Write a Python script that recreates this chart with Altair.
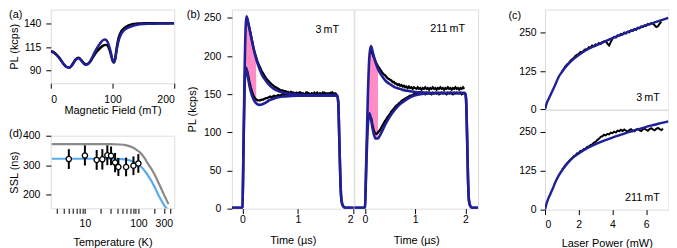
import altair as alt
import pandas as pd

FONT = "Liberation Sans"
BLUE = "#1f1f96"
PINK = "#ff8cc6"
LBLUE = "#5aaaf2"
GRAY = "#8a8a8a"
FS_LABEL = 10.5
FS_TITLE = 11

panel_letters = ["(a)", "(b)", "(c)", "(d)"]

# ---------------- panel (a): PL vs magnetic field ----------------
a_field = [0, 5, 10, 15, 20, 25, 30, 35, 40, 45, 50, 55, 58, 62, 66, 70, 75, 80, 85, 88,
           91, 94, 97, 100, 102, 104, 107, 110, 114, 118, 122, 126, 132, 140, 150, 160, 175, 190, 200]
a_fit = [110.5, 109, 106, 102, 97.5, 94, 93, 96, 101, 103, 100, 96.5, 96, 98, 102.5, 108, 114, 119, 122.5, 123,
         121.5, 117, 110, 101, 98.5, 101, 113, 122, 129, 132.5, 134.5, 136, 137.5, 138.8, 139.5, 139.8, 140, 140.2, 140.3]
a_data = [110.5, 109.3, 106.5, 102.5, 97.5, 94, 93, 96.5, 101.5, 103.5, 100.5, 97, 96.5, 98, 101.5, 106, 110.5, 114, 116.5, 117.3,
          117, 114, 108, 100.5, 98.5, 102, 115, 125, 131.5, 134.5, 136.5, 138, 139.3, 140, 140.3, 140.5, 140.5, 140.5, 140.5]

# ---------------- panel (d): SSL vs temperature ----------------
d_temp = [5, 10, 16.6, 21.2, 26.3, 30.9, 36.7, 42.3, 59, 81, 100]
d_ssl = [321, 333, 318, 320, 334, 332, 309, 294, 294, 298, 306]
d_lo = [287, 299, 284, 285, 300, 300, 276, 263, 262, 266, 274]
d_hi = [355, 368, 352, 355, 368, 364, 342, 325, 326, 330, 338]
d_gray_T = [2.4, 10, 30, 45, 60, 75, 90, 107, 130, 150, 191, 250, 300, 366]
d_gray_v = [372, 372, 372, 371, 368, 362, 354, 344, 325, 306, 276, 232, 200, 167]
d_blue_T = [2.4, 10, 30, 50, 70, 85, 107, 130, 160, 191, 250, 300, 345]
d_blue_v = [322, 322, 322, 321, 316, 309, 298, 282, 258, 234, 190, 165, 150]
d_ticks = [3, 4, 5, 6, 7, 8, 9, 10, 20, 30, 40, 50, 60, 70, 80, 90, 100, 200, 300, 400]

# ---------------- panel (b): time traces ----------------
bl_t = [-0.19, -0.02, 0, 0.02, 0.04, 0.06, 0.075, 0.09, 0.11, 0.13, 0.15, 0.18, 0.21, 0.25, 0.30, 0.35, 0.42,
        0.50, 0.57, 0.65, 0.75, 0.85, 1.0, 1.2, 1.5, 1.71, 1.73, 1.75, 1.77, 1.79, 1.82, 1.86, 2.01]
bl_up_fit = [1, 1, 2, 80, 180, 240, 252, 249, 242, 235, 228, 217, 207, 196, 185, 176, 168,
             161, 157, 154, 152, 150.5, 149.5, 149, 149, 149, 140, 90, 35, 10, 3, 1, 1]
bl_lo_fit = [1, 1, 2, 80, 160, 185, 183, 176, 168, 160, 154, 147, 142, 138, 136, 136.5, 139,
             142.5, 144.5, 146, 147, 147.5, 148, 148, 148, 148, 140, 90, 35, 10, 3, 1, 1]
bl_fill_range = (5, 13)  # t = 0.06 ... 0.25

bl_dt = [round(0.075 + 0.025 * i, 3) for i in range(66)]
bl_up_dat = [250, 245, 237, 229, 220, 211, 204, 198, 192, 188,
             184, 180, 177, 174, 171, 169, 167, 165, 163, 162,
             160, 159, 158, 157, 156, 155, 155, 154, 154, 153,
             153, 151, 153, 151, 152, 150, 152, 151, 150, 152,
             150, 151, 149, 152, 150, 151, 149, 151, 150, 152,
             150, 151, 149, 151, 150, 152, 150, 151, 149, 151,
             150, 152, 150, 151, 150, 151]
bl_lo_dat = [183, 176, 167, 159, 153, 148, 145, 143, 142, 142,
             142, 143, 143, 144, 145, 145, 146, 147, 146, 147,
             148, 147, 148, 149, 148, 149, 150, 149, 150, 149,
             151, 149, 150, 152, 150, 149, 151, 150, 152, 149,
             151, 150, 149, 151, 152, 150, 149, 151, 150, 151,
             149, 152, 150, 151, 149, 150, 152, 150, 151, 149,
             151, 150, 152, 149, 151, 150]

br_t = [-0.21, -0.02, 0, 0.03, 0.06, 0.09, 0.12, 0.15, 0.18, 0.21, 0.26, 0.30, 0.36, 0.42, 0.50, 0.60,
        0.70, 0.80, 0.90, 1.0, 1.1, 1.25, 1.5, 1.99, 2.01, 2.03, 2.05, 2.07, 2.1, 2.14, 2.25]
br_up_fit = [1, 1, 2, 70, 150, 200, 213, 207, 199, 192, 183, 178, 172, 167, 163, 159,
             157, 155, 154, 153, 152.5, 152, 151.5, 151.5, 145, 100, 40, 10, 3, 1, 1]
br_lo_fit = [1, 1, 2, 60, 110, 125, 118, 106, 97, 92, 92, 96, 104, 112, 121, 130,
             137, 142, 146, 148.5, 150, 151, 151.5, 151.5, 145, 100, 40, 10, 3, 1, 1]
br_fill_range = (4, 10)  # t = 0.06 ... 0.26

br_dt = [round(0.125 + 0.025 * i, 3) for i in range(75)]
br_up_dat = [207, 203, 199, 195, 191, 188, 185, 183, 180, 178,
             176, 175, 173, 171, 170, 169, 168, 166, 166, 164,
             164, 162, 163, 161, 162, 160, 161, 159, 160, 158,
             160, 158, 159, 157, 159, 158, 157, 159, 157, 158,
             156, 158, 157, 159, 157, 158, 156, 158, 157, 159,
             157, 158, 156, 158, 157, 159, 157, 158, 156, 158,
             157, 159, 157, 158, 156, 158, 157, 159, 157, 158,
             156, 158, 157, 159, 157]
br_lo_dat = [119, 110, 103, 99, 98, 99, 101, 103, 106, 109,
             112, 115, 117, 120, 122, 124, 127, 129, 131, 133,
             135, 136, 138, 139, 141, 142, 143, 144, 145, 146,
             147, 148, 148, 149, 150, 150, 151, 150, 151, 152,
             151, 152, 151, 150, 152, 151, 152, 151, 150, 152,
             151, 152, 151, 152, 150, 151, 152, 151, 152, 151,
             150, 152, 151, 152, 151, 150, 152, 151, 152, 151,
             151, 152, 150, 151, 152]
b_labels = ["3\u2009mT", "211\u2009mT"]

# ---------------- panel (c): PL vs laser power ----------------
c_fit_P = [0, 0.1, 0.2, 0.3, 0.45, 0.6, 0.8, 1.0, 1.3, 1.6, 2.0, 2.5, 3.0, 3.5, 4.0, 4.5, 5.0, 5.5, 6.0, 6.5, 7.0, 7.32]
ct_fit = [0, 20, 33, 44, 62, 80, 105, 122, 143, 160, 177, 195, 208, 220, 232, 243, 254, 264, 274, 283, 292, 298]
cb_fit = [0, 21, 36, 48, 66, 86, 108, 125, 146, 164, 180, 197, 210, 221, 231, 240, 249, 257, 265, 272, 279, 283]
ct_P = [round(1.0 + 0.1 * i, 1) for i in range(60)]
ct_dat = [124, 130, 140, 146, 150, 158, 163, 167, 174, 178,
          181, 187, 186, 192, 196, 195, 203, 201, 208, 206,
          212, 210, 216, 213, 219, 221, 223, 214, 208, 220,
          230, 236, 234, 241, 240, 246, 244, 250, 247, 253,
          251, 258, 255, 262, 259, 266, 264, 270, 268, 273,
          272, 278, 276, 281, 279, 274, 268, 271, 279, 286]
cb_P = [round(1.0 + 0.1 * i, 1) for i in range(61)]
cb_dat = [128, 134, 142, 148, 154, 160, 164, 171, 174, 180,
          182, 188, 189, 194, 195, 201, 202, 207, 209, 215,
          217, 223, 227, 233, 235, 240, 238, 243, 241, 247,
          245, 250, 247, 253, 251, 256, 252, 257, 253, 250,
          255, 258, 253, 251, 256, 259, 255, 252, 257, 260,
          256, 253, 258, 261, 257, 254, 259, 262, 258, 255,
          259]
c_labels = ["3\u2009mT", "211\u2009mT"]


def ax(**kw):
    base = dict(grid=False, domain=False, ticks=True, tickSize=5, tickColor="black", tickWidth=1,
                labelFont=FONT, labelFontSize=FS_LABEL, labelColor="black",
                titleFont=FONT, titleFontSize=FS_TITLE, titleColor="black", titleFontWeight="normal")
    base.update(kw)
    return alt.Axis(**base)


def yax(values, title, pad, ext=None, tpad=None):
    if title is None:
        return ax(values=values, title=None, labelPadding=pad)
    return ax(values=values, title=title, labelPadding=pad, titlePadding=tpad, minExtent=ext, maxExtent=ext)


def xax(values, title, pad, tpad):
    return ax(values=values, title=title, labelPadding=pad, titlePadding=tpad)


def text_layer(text, x, y, align="right", size=10.8):
    return alt.Chart(pd.DataFrame({"lab": [text]})).mark_text(
        align=align, baseline="alphabetic", font=FONT, fontSize=size, color="black"
    ).encode(text="lab:N", x=alt.value(x), y=alt.value(y))


# ---- (a)
a_df = pd.DataFrame({"B": a_field, "fit": a_fit, "data": a_data})
a_xs = alt.Scale(domain=[0, 200], nice=False)
a_ys = alt.Scale(domain=[76.4, 155], nice=False, zero=False)
a_xax = xax([0, 100, 200], "Magnetic Field (mT)", 6, 0)
a_yax = yax([90, 115, 140], "PL (kcps)", 5, 27.5, 3.5)
a_chart = alt.layer(
    alt.Chart(a_df).mark_line(color="black", strokeWidth=2.5, interpolate="monotone", clip=True).encode(
        x=alt.X("B:Q", scale=a_xs, axis=a_xax), y=alt.Y("data:Q", scale=a_ys, axis=a_yax)),
    alt.Chart(a_df).mark_line(color=BLUE, strokeWidth=2.5, interpolate="monotone", clip=True).encode(
        x=alt.X("B:Q", scale=a_xs, axis=a_xax), y=alt.Y("fit:Q", scale=a_ys, axis=a_yax)),
    text_layer(panel_letters[0], -42, 8.5, align="left", size=11),
).properties(width=124, height=74)

# ---- (d)
d_pts = pd.DataFrame({"T": d_temp, "ssl": d_ssl, "lo": d_lo, "hi": d_hi})
d_gray = pd.DataFrame({"T": d_gray_T, "v": d_gray_v})
d_blue = pd.DataFrame({"T": d_blue_T, "v": d_blue_v})
d_xs = alt.Scale(type="log", domain=[2.3, 470], nice=False)
d_ys = alt.Scale(domain=[152, 401], nice=False, zero=False)
d_xax = ax(values=d_ticks, title="Temperature (K)", labelPadding=5, titlePadding=8,
           labelExpr="(datum.value == 10 || datum.value == 100 || datum.value == 300) ? format(datum.value, 'd') : ''")
d_yax = yax([200, 300, 400], "SSL (ns)", 6, 28.5, 2.5)
d_chart = alt.layer(
    alt.Chart(d_gray).mark_line(color=GRAY, strokeWidth=2.2, interpolate="monotone", clip=True).encode(
        x=alt.X("T:Q", scale=d_xs, axis=d_xax), y=alt.Y("v:Q", scale=d_ys, axis=d_yax)),
    alt.Chart(d_blue).mark_line(color=LBLUE, strokeWidth=2.2, interpolate="monotone", clip=True).encode(
        x=alt.X("T:Q", scale=d_xs, axis=d_xax), y=alt.Y("v:Q", scale=d_ys, axis=d_yax)),
    alt.Chart(d_pts).mark_rule(color="black", strokeWidth=2).encode(
        x=alt.X("T:Q", scale=d_xs, axis=d_xax), y=alt.Y("lo:Q", scale=d_ys, axis=d_yax), y2="hi:Q"),
    alt.Chart(d_pts).mark_point(shape="circle", filled=True, fill="white", stroke="black",
                                strokeWidth=1.3, size=28, opacity=1).encode(
        x=alt.X("T:Q", scale=d_xs, axis=d_xax), y=alt.Y("ssl:Q", scale=d_ys, axis=d_yax)),
    text_layer(panel_letters[3], -42, 0.8, align="left", size=11),
).properties(width=124, height=73)

# ---- (b)
b_ys = alt.Scale(domain=[0, 261], nice=False)
b_yax = yax([0, 50, 100, 150, 200, 250], "PL (kcps)", 6, 28.5, 5.8)


def b_panel(t, up_fit, lo_fit, fr, dt, up_dat, lo_dat, xdom, width, yaxis, label, lab_x, lab_y, letter):
    fit_df = pd.DataFrame({"t": t, "up": up_fit, "lo": lo_fit})
    fill_df = fit_df.iloc[fr[0]:fr[1] + 1]
    dat_df = pd.DataFrame({"t": dt, "up": up_dat, "lo": lo_dat})
    xs = alt.Scale(domain=xdom, nice=False)
    X = alt.X("t:Q", scale=xs, axis=xax([0, 1, 2], "Time (\u00b5s)", 1, 10))
    layers = [
        alt.Chart(fill_df).mark_area(color=PINK, opacity=1, interpolate="monotone", clip=True).encode(
            x=X, y=alt.Y("up:Q", scale=b_ys, axis=yaxis), y2="lo:Q"),
    ]
    for col in ["up", "lo"]:
        layers.append(alt.Chart(dat_df).mark_line(color="black", strokeWidth=2.3, clip=True).encode(
            x=X, y=alt.Y(f"{col}:Q", scale=b_ys, axis=yaxis)))
    for col in ["up", "lo"]:
        layers.append(alt.Chart(fit_df).mark_line(color=BLUE, strokeWidth=2.6, interpolate="monotone",
                                                  clip=True).encode(
            x=X, y=alt.Y(f"{col}:Q", scale=b_ys, axis=yaxis)))
    layers.append(text_layer(label, lab_x, lab_y))
    if letter:
        layers.append(text_layer(letter, -45.3, 8.5, align="left", size=11))
    return alt.layer(*layers).properties(width=width, height=200)


bl_chart = b_panel(bl_t, bl_up_fit, bl_lo_fit, bl_fill_range, bl_dt, bl_up_dat, bl_lo_dat,
                   [-0.19, 2.01], 122.4, b_yax, b_labels[0], 107.7, 23.2, panel_letters[1])
br_chart = b_panel(br_t, br_up_fit, br_lo_fit, br_fill_range, br_dt, br_up_dat, br_lo_dat,
                   [-0.21, 2.25], 124.3, None, b_labels[1], 111.3, 22.2, None)

# ---- (c)
c_xs = alt.Scale(domain=[0, 7.32], nice=False)


def c_panel(fit, P, dat, ydom, xaxis, label, lab_y, letter, height):
    fit_df = pd.DataFrame({"P": c_fit_P, "v": fit})
    dat_df = pd.DataFrame({"P": P, "v": dat})
    ys = alt.Scale(domain=ydom, nice=False)
    Y = alt.Y("v:Q", scale=ys, axis=yax([0, 125, 250], None, 4))
    X = alt.X("P:Q", scale=c_xs, axis=xaxis)
    layers = [
        alt.Chart(dat_df).mark_line(color="black", strokeWidth=2, clip=True).encode(x=X, y=Y),
        alt.Chart(fit_df).mark_line(color=BLUE, strokeWidth=2.4, interpolate="monotone", clip=True).encode(x=X, y=Y),
        text_layer(label, 115.3, lab_y),
    ]
    if letter:
        layers.append(text_layer(letter, -36.7, 9.5, align="left", size=11))
    return alt.layer(*layers).properties(width=124, height=height)


ct_chart = c_panel(ct_fit, ct_P, ct_dat, [0, 325], None, c_labels[0], 91.4, panel_letters[2], 100.45)
cb_chart = c_panel(cb_fit, cb_P, cb_dat, [0, 319], xax([0, 2, 4, 6], "Laser Power (mW)", 5, 7.4),
                   c_labels[1], 91.7, None, 100)

col1 = alt.vconcat(a_chart, d_chart, spacing=52.75, bounds="flush")
col2 = alt.hconcat(bl_chart, br_chart, spacing=0, bounds="flush")
col3 = alt.vconcat(ct_chart, cb_chart, spacing=0, bounds="flush")
left = alt.hconcat(col1, col2, spacing=10.9)
chart = alt.hconcat(left, col3, spacing=28.45).properties(
    padding={"left": 0, "top": 0, "right": 0, "bottom": 0}
).configure_view(stroke="black", strokeWidth=1.1).configure(font=FONT)

chart.save("out.html", embed_options={"renderer": "svg", "actions": False})
